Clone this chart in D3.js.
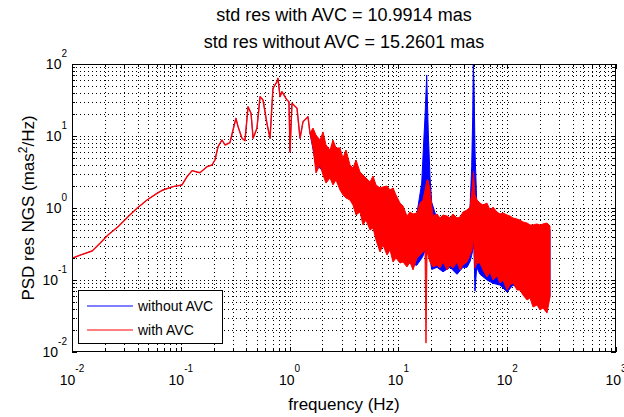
<!DOCTYPE html>
<html>
<head>
<meta charset="utf-8">
<script src="https://cdn.jsdelivr.net/npm/d3@7"></script>
<style>
  body { margin: 0; background: #fff; }
  svg { display: block; font-family: "Liberation Sans", Arial, sans-serif; }
</style>
</head>
<body>
<div id="chart"></div>
<script>
// ---- data ----
const titleLines = ["std res with AVC = 10.9914 mas", "std res without AVC = 15.2601 mas"];
const seriesNames = ["without AVC", "with AVC"];

const xMajor = [1e-2, 1e-1, 1e0, 1e1, 1e2, 1e3];
const xExp = ["-2", "-1", "0", "1", "2", "3"];
const yMajor = [1e-2, 1e-1, 1e0, 1e1, 1e2];
const yExp = ["-2", "-1", "0", "1", "2"];

// with AVC (red): smooth low-frequency part
const withLineFreq = [0.0100, 0.0119, 0.0153, 0.0181, 0.0214, 0.0265, 0.0327, 0.0396, 0.0489, 0.0604,
  0.0686, 0.0848, 0.1026, 0.114, 0.127, 0.141, 0.150, 0.174, 0.194, 0.206,
  0.220, 0.239, 0.255, 0.283, 0.302, 0.321, 0.336, 0.365, 0.389, 0.415,
  0.442, 0.462, 0.501, 0.535, 0.570, 0.619, 0.661, 0.703, 0.766, 0.782,
  0.817, 0.851, 0.869, 0.946, 0.987, 1.008, 1.052, 1.170, 1.247, 1.328, 1.476, 1.540];
const withLinePsd = [0.200, 0.222, 0.253, 0.324, 0.422, 0.550, 0.757, 0.990, 1.29, 1.60,
  1.78, 1.98, 2.09, 2.72, 3.30, 3.16, 3.09, 3.75, 3.96, 4.64,
  7.10, 8.80, 7.50, 8.07, 12.1, 17.6, 13.5, 9.29, 8.61, 25.5,
  20.7, 9.29, 12.8, 35.2, 31.6, 15.0, 9.29, 46.0, 56.8, 63.3,
  35.2, 41.2, 39.2, 31.6, 29.9, 6.05, 28.5, 24.3, 9.29, 15.8, 18.5, 10.9];

// with AVC (red): dense part, min / max per frequency bin
const withBandFreq = [1.540, 1.641, 1.748, 1.903, 2.028, 2.161, 2.351, 2.505, 2.670, 2.905,
  3.096, 3.299, 3.591, 3.826, 4.077, 4.437, 4.727, 5.037, 5.483, 5.842,
  6.225, 6.775, 7.220, 7.857, 8.372, 8.921, 9.504, 10.34, 11.02, 11.99,
  12.78, 13.62, 14.83, 15.80, 16.83, 17.56, 17.93, 18.32, 18.71, 19.52,
  20.80, 22.63, 24.12, 25.70, 27.97, 29.81, 31.76, 34.56, 36.82, 39.25,
  42.71, 45.51, 47.48, 49.0, 50.58, 52.77, 56.23, 59.93, 65.20, 69.50,
  74.06, 80.58, 85.87, 91.50, 99.58, 106.1, 113.1, 123.1, 131.1, 139.7,
  152.1, 162.0, 172.7, 187.9, 200.3, 213.3, 232.2, 247.4];
const withBandLo = [10.9, 6.81, 3.06, 3.96, 2.87, 2.22, 2.61, 2.09, 2.45, 1.78,
  1.52, 1.38, 1.29, 1.10, 0.800, 0.880, 0.581, 0.681, 0.495, 0.528,
  0.359, 0.245, 0.306, 0.222, 0.261, 0.178, 0.202, 0.172, 0.178, 0.152,
  0.178, 0.138, 0.202, 0.222, 0.245, 0.261, 0.0133, 0.245, 0.222, 0.178,
  0.152, 0.162, 0.147, 0.178, 0.138, 0.162, 0.147, 0.178, 0.138, 0.162,
  0.178, 0.222, 0.261, 0.383, 0.147, 0.172, 0.172, 0.138, 0.110, 0.129,
  0.100, 0.114, 0.0909, 0.100, 0.0726, 0.0853, 0.0909, 0.0726, 0.0726, 0.0619,
  0.0528, 0.0562, 0.0422, 0.0450, 0.0383, 0.0409, 0.0348, 0.0581];
const withBandHi = [10.9, 12.9, 10.3, 8.80, 11.4, 7.50, 6.39, 8.80, 6.81, 6.81,
  4.95, 6.39, 3.96, 3.59, 4.64, 3.16, 2.87, 2.61, 2.30, 2.78,
  2.09, 1.90, 1.96, 2.02, 1.78, 1.90, 1.52, 1.17, 1.07, 0.774,
  0.880, 0.826, 0.853, 1.17, 1.29, 1.78, 2.09, 2.45, 2.45, 1.78,
  0.774, 0.826, 0.726, 0.800, 0.774, 0.726, 0.826, 0.726, 0.750, 0.880,
  0.938, 1.03, 1.78, 3.2, 1.52, 1.29, 1.17, 1.10, 1.17, 0.938,
  1.03, 0.880, 0.826, 0.853, 0.800, 0.774, 0.726, 0.703, 0.681, 0.640,
  0.619, 0.581, 0.581, 0.600, 0.581, 0.600, 0.619, 0.562];

// without AVC (blue): identical below ~1.5 Hz
const withoutLineFreq = [0.0100, 0.0119, 0.0153, 0.0181, 0.0214, 0.0265, 0.0327, 0.0396, 0.0489, 0.0604,
  0.0686, 0.0848, 0.1026, 0.114, 0.127, 0.141, 0.150, 0.174, 0.194, 0.206,
  0.220, 0.239, 0.255, 0.283, 0.302, 0.321, 0.336, 0.365, 0.389, 0.415,
  0.442, 0.462, 0.501, 0.535, 0.570, 0.619, 0.661, 0.703, 0.766, 0.782,
  0.817, 0.851, 0.869, 0.946, 0.987, 1.008, 1.052, 1.170, 1.247, 1.328, 1.476, 1.540];
const withoutLinePsd = [0.200, 0.222, 0.253, 0.324, 0.422, 0.550, 0.757, 0.990, 1.29, 1.60,
  1.78, 1.98, 2.09, 2.72, 3.30, 3.16, 3.09, 3.75, 3.96, 4.64,
  7.10, 8.80, 7.50, 8.07, 12.1, 17.6, 13.5, 9.29, 8.61, 25.5,
  20.7, 9.29, 12.8, 35.2, 31.6, 15.0, 9.29, 46.0, 56.8, 63.3,
  35.2, 41.2, 39.2, 31.6, 29.9, 6.05, 28.5, 24.3, 9.29, 15.8, 18.5, 10.9];

// without AVC (blue): dense part with the two vibration peaks
const withoutBandFreq = [1.540, 1.748, 2.161, 2.670, 3.299, 4.077, 5.037, 6.225, 7.857, 9.504,
  11.02, 12.78, 14.73, 16.38, 16.94, 17.56, 18.20, 18.83, 19.52, 20.24,
  22.63, 25.70, 29.81, 34.56, 39.25, 42.71, 45.51, 47.17, 48.18, 48.80,
  49.53, 50.58, 52.45, 56.23, 65.20, 74.06, 85.87, 99.58, 113.1, 131.1,
  152.1, 172.7, 200.3, 232.2, 247.4];
const withoutBandLo = [10.9, 4.0, 3.0, 2.6, 1.6, 1.0, 0.75, 0.45, 0.30, 0.25,
  0.20, 0.17, 0.16, 0.20, 0.22, 0.26, 0.30, 0.25, 0.20, 0.14,
  0.15, 0.13, 0.15, 0.12, 0.15, 0.15, 0.18, 0.22, 0.26, 0.30,
  0.26, 0.07, 0.15, 0.12, 0.10, 0.09, 0.085, 0.068, 0.085, 0.075,
  0.065, 0.06, 0.05, 0.045, 0.06];
const withoutBandHi = [10.9, 7.5, 6.0, 5.5, 4.0, 3.0, 2.3, 1.9, 1.6, 1.2,
  0.85, 0.70, 0.80, 2.22, 6.39, 18.5, 70.4, 11.0, 2.72, 1.2,
  0.70, 0.70, 0.68, 0.68, 0.75, 0.85, 1.0, 3.75, 18.5, 100,
  54.5, 6.39, 1.2, 1.0, 0.9, 0.85, 0.75, 0.72, 0.65, 0.60,
  0.55, 0.52, 0.52, 0.52, 0.50];

// ---- layout ----
const width = 624;
const height = 417;
const margin = { top: 64, right: 8, bottom: 65, left: 72 };
const innerRight = width - margin.right;
const innerBottom = height - margin.bottom;

const svg = d3.select("#chart").append("svg")
  .attr("width", width)
  .attr("height", height);

const x = d3.scaleLog().domain([1e-2, 1e3]).range([margin.left, innerRight]);
const y = d3.scaleLog().domain([1e-2, 1e2]).range([innerBottom, margin.top]);

const snap = v => Math.round(v) + 0.5;

// Grid (major + minor, dotted)
const grid = svg.append("g").attr("stroke", "#000").attr("stroke-width", 1)
  .attr("stroke-dasharray", "1,3").attr("fill", "none");

x.ticks().forEach(t => {
  if (t <= 1e-2 || t >= 1e3) return;
  grid.append("line")
    .attr("x1", snap(x(t))).attr("x2", snap(x(t)))
    .attr("y1", margin.top).attr("y2", innerBottom);
});
y.ticks().forEach(t => {
  if (t <= 1e-2 || t >= 1e2) return;
  grid.append("line")
    .attr("x1", margin.left).attr("x2", innerRight)
    .attr("y1", snap(y(t))).attr("y2", snap(y(t)));
});

// Clip for data
svg.append("clipPath").attr("id", "plotClip")
  .append("rect")
  .attr("x", margin.left).attr("y", margin.top)
  .attr("width", innerRight - margin.left)
  .attr("height", innerBottom - margin.top);

const plot = svg.append("g").attr("clip-path", "url(#plotClip)");

const line = d3.line().x(d => x(d[0])).y(d => y(d[1]));
const band = d3.area().x(d => x(d[0])).y0(d => y(d[1])).y1(d => y(d[2]));

function drawSeries(freqL, psdL, freqB, loB, hiB, color, lineWidth) {
  plot.append("path")
    .datum(freqL.map((f, i) => [f, psdL[i]]))
    .attr("fill", "none")
    .attr("stroke", color)
    .attr("stroke-width", lineWidth)
    .attr("stroke-linejoin", "round")
    .attr("d", line);
  plot.append("path")
    .datum(freqB.map((f, i) => [f, loB[i], hiB[i]]))
    .attr("fill", color)
    .attr("stroke", color)
    .attr("stroke-width", 1)
    .attr("stroke-linejoin", "round")
    .attr("d", band);
}

drawSeries(withoutLineFreq, withoutLinePsd, withoutBandFreq, withoutBandLo, withoutBandHi, "#0000ff", 0.7);
drawSeries(withLineFreq, withLinePsd, withBandFreq, withBandLo, withBandHi, "#ff0000", 1.4);

// Ticks (inward, all four sides)
const ticks = svg.append("g").attr("stroke", "#000").attr("stroke-width", 1);
x.ticks().forEach(t => {
  const major = xMajor.includes(t);
  const len = major ? 5 : 3;
  const xp = snap(x(t));
  ticks.append("line").attr("x1", xp).attr("x2", xp).attr("y1", innerBottom).attr("y2", innerBottom - len);
  ticks.append("line").attr("x1", xp).attr("x2", xp).attr("y1", margin.top).attr("y2", margin.top + len);
});
y.ticks().forEach(t => {
  const major = yMajor.includes(t);
  const len = major ? 5 : 3;
  const yp = snap(y(t));
  ticks.append("line").attr("x1", margin.left).attr("x2", margin.left + len).attr("y1", yp).attr("y2", yp);
  ticks.append("line").attr("x1", innerRight).attr("x2", innerRight - len).attr("y1", yp).attr("y2", yp);
});

// Axes box
svg.append("rect")
  .attr("x", margin.left + 0.5).attr("y", margin.top + 0.5)
  .attr("width", innerRight - margin.left - 1)
  .attr("height", innerBottom - margin.top - 1)
  .attr("fill", "none").attr("stroke", "#000").attr("stroke-width", 1);

// Tick labels
xMajor.forEach((v, i) => {
  const t = svg.append("text")
    .attr("x", x(v)).attr("y", innerBottom + 33)
    .attr("text-anchor", "middle").attr("fill", "#000");
  t.append("tspan").attr("font-size", 14).text("10");
  t.append("tspan").attr("font-size", 10).attr("dy", -13).text(xExp[i]);
});
yMajor.forEach((v, i) => {
  const t = svg.append("text")
    .attr("x", margin.left - 5).attr("y", y(v) + 5)
    .attr("text-anchor", "end").attr("fill", "#000");
  t.append("tspan").attr("font-size", 14).text("10");
  t.append("tspan").attr("font-size", 10).attr("dy", -12).text(yExp[i]);
});

// Title
titleLines.forEach((s, i) => {
  svg.append("text")
    .attr("x", (margin.left + innerRight) / 2)
    .attr("y", 21 + i * 27)
    .attr("text-anchor", "middle")
    .attr("font-size", 18)
    .text(s);
});

// Axis labels
svg.append("text")
  .attr("x", (margin.left + innerRight) / 2)
  .attr("y", 410)
  .attr("text-anchor", "middle")
  .attr("font-size", 17)
  .text("frequency (Hz)");

const yl = svg.append("text")
  .attr("transform", `translate(34,${(margin.top + innerBottom) / 2}) rotate(-90)`)
  .attr("text-anchor", "middle")
  .attr("font-size", 17);
yl.append("tspan").text("PSD res NGS (mas");
yl.append("tspan").attr("font-size", 12).attr("dy", -7).text("2");
yl.append("tspan").attr("dy", 7).text("/Hz)");

// Legend
const legend = svg.append("g").attr("transform", "translate(78,290)");
legend.append("rect")
  .attr("x", 0.5).attr("y", 0.5).attr("width", 144).attr("height", 53)
  .attr("fill", "#fff").attr("stroke", "#000");
const legendColors = ["#0000ff", "#ff0000"];
seriesNames.forEach((name, i) => {
  const ly = 16 + i * 24;
  legend.append("line")
    .attr("x1", 9).attr("x2", 55).attr("y1", ly).attr("y2", ly)
    .attr("stroke", legendColors[i]).attr("stroke-width", 1);
  legend.append("text")
    .attr("x", 60).attr("y", ly + 5)
    .attr("font-size", 14)
    .text(name);
});
</script>
</body>
</html>
